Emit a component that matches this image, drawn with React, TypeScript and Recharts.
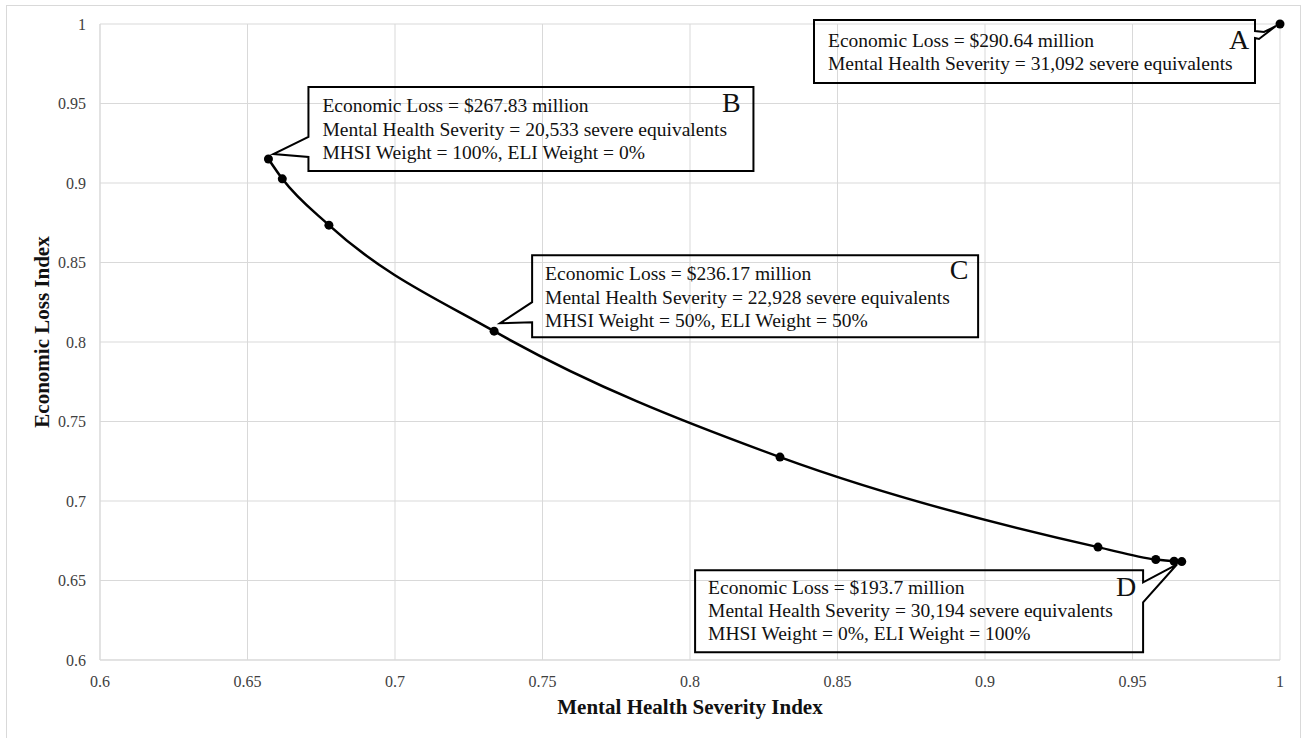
import React from 'react';
import {
  ComposedChart,
  Line,
  XAxis,
  YAxis,
  CartesianGrid,
  ReferenceDot,
  Label,
} from 'recharts';

// Mental Health Severity Index (x) and Economic Loss Index (y) along the frontier
const mhsiValues = [0.6571, 0.6618, 0.6776, 0.7336, 0.8305, 0.9383, 0.9579, 0.9641, 0.9667];
const eliValues = [0.9151, 0.9026, 0.8735, 0.8068, 0.7276, 0.671, 0.6632, 0.6621, 0.6619];

// Isolated point A
const pointAX = [1.0];
const pointAY = [1.0];

const xTicks = [0.6, 0.65, 0.7, 0.75, 0.8, 0.85, 0.9, 0.95, 1];
const yTicks = [0.6, 0.65, 0.7, 0.75, 0.8, 0.85, 0.9, 0.95, 1];

const calloutA = [
  'Economic Loss = $290.64 million',
  'Mental Health Severity = 31,092 severe equivalents',
];
const calloutB = [
  'Economic Loss = $267.83 million',
  'Mental Health Severity = 20,533 severe equivalents',
  'MHSI Weight = 100%, ELI Weight = 0%',
];
const calloutC = [
  'Economic Loss = $236.17 million',
  'Mental Health Severity = 22,928 severe equivalents',
  'MHSI Weight = 50%, ELI Weight = 50%',
];
const calloutD = [
  'Economic Loss = $193.7 million',
  'Mental Health Severity = 30,194 severe equivalents',
  'MHSI Weight = 0%, ELI Weight = 100%',
];

const frontier = mhsiValues.map((x, i) => ({ x, y: eliValues[i] }));
const pointA = pointAX.map((x, i) => ({ x, y: pointAY[i] }));

const FONT = '"Liberation Serif", "Times New Roman", serif';

const TextLines = ({ x, ys, lines }: { x: number; ys: number[]; lines: string[] }) => (
  <g>
    {lines.map((t, i) => (
      <text
        key={i}
        x={x}
        y={ys[i]}
        fontFamily={FONT}
        fontSize={19.5}
        fill="#111"
        dominantBaseline="central"
      >
        {t}
      </text>
    ))}
  </g>
);

const Letter = ({ x, y, t }: { x: number; y: number; t: string }) => (
  <text x={x} y={y} fontFamily={FONT} fontSize={28} fill="#111" textAnchor="middle" dominantBaseline="central">
    {t}
  </text>
);

const CalloutA = (p: any) => {
  const { cx, cy } = p;
  const L = cx - 466, T = cy - 4, R = cx - 25, B = cy + 59;
  const d = `M${L},${T} L${R},${T} L${R},${cy + 7} L${R + 9},${cy + 8} L${cx - 4},${cy + 2} L${R + 4},${cy + 15} L${R},${cy + 14} L${R},${B} L${L},${B} Z`;
  return (
    <g>
      <path d={d} fill="none" stroke="#000" strokeWidth={2} strokeLinejoin="miter" />
      <TextLines x={cx - 452} ys={[cy + 16, cy + 39]} lines={calloutA} />
      <Letter x={cx - 41} y={cy + 15} t="A" />
    </g>
  );
};

const CalloutB = (p: any) => {
  const { cx, cy } = p;
  const L = cx + 40, T = cy - 72, R = cx + 485, B = cy + 12;
  const d = `M${L},${T} L${R},${T} L${R},${B} L${L},${B} L${L},${cy - 2} L${cx + 5},${cy - 5} L${L},${cy - 22} Z`;
  return (
    <g>
      <path d={d} fill="none" stroke="#000" strokeWidth={2} />
      <TextLines x={cx + 54} ys={[cy - 53, cy - 29, cy - 6]} lines={calloutB} />
      <Letter x={cx + 463} y={cy - 56} t="B" />
    </g>
  );
};

const CalloutC = (p: any) => {
  const { cx, cy } = p;
  const L = cx + 38, T = cy - 76, R = cx + 484, B = cy + 6;
  const d = `M${L},${T} L${R},${T} L${R},${B} L${L},${B} L${L},${cy - 9} L${cx + 6},${cy - 8} L${L},${cy - 29} Z`;
  return (
    <g>
      <path d={d} fill="none" stroke="#000" strokeWidth={2} />
      <TextLines x={cx + 51} ys={[cy - 58, cy - 34, cy - 11]} lines={calloutC} />
      <Letter x={cx + 465} y={cy - 62} t="C" />
    </g>
  );
};

const CalloutD = (p: any) => {
  const { cx, cy } = p;
  const L = cx - 479, T = cy + 9, R = cx - 31, B = cy + 91;
  const d = `M${L},${T} L${R},${T} L${R},${cy + 21} L${cx + 3},${cy + 3} L${R},${cy + 41} L${R},${B} L${L},${B} Z`;
  return (
    <g>
      <path d={d} fill="none" stroke="#000" strokeWidth={2} />
      <TextLines x={cx - 466} ys={[cy + 26, cy + 49, cy + 72]} lines={calloutD} />
      <Letter x={cx - 48} y={cy + 25} t="D" />
    </g>
  );
};

const XTitle = (props: any) => {
  const vb = props.viewBox || { x: 100, y: 660, width: 1180, height: 30 };
  return (
    <text
      x={vb.x + vb.width / 2}
      y={vb.y + 47}
      fontFamily={FONT}
      fontSize={21}
      fontWeight="bold"
      fill="#111"
      textAnchor="middle"
      dominantBaseline="central"
    >
      Mental Health Severity Index
    </text>
  );
};

const YTitle = (props: any) => {
  const vb = props.viewBox || { x: 40, y: 24, width: 60, height: 636 };
  const x = vb.x + 2;
  const y = vb.y + vb.height / 2 - 10;
  return (
    <text
      x={x}
      y={y}
      transform={`rotate(-90, ${x}, ${y})`}
      fontFamily={FONT}
      fontSize={21}
      fontWeight="bold"
      fill="#111"
      textAnchor="middle"
      dominantBaseline="central"
    >
      Economic Loss Index
    </text>
  );
};

const XTick = (p: any) => (
  <text
    x={p.x}
    y={p.y + 13}
    fontFamily={FONT}
    fontSize={16}
    fill="#404040"
    textAnchor="middle"
    dominantBaseline="central"
  >
    {String(p.payload.value)}
  </text>
);

const YTick = (p: any) => (
  <text
    x={p.x - 6}
    y={p.y}
    fontFamily={FONT}
    fontSize={16}
    fill="#404040"
    textAnchor="end"
    dominantBaseline="central"
  >
    {String(p.payload.value)}
  </text>
);

export default function App() {
  return (
    <div style={{ position: 'absolute', left: 0, top: 0, width: 1308, height: 738, background: '#fff', overflow: 'hidden' }}>
      <div
        style={{
          position: 'absolute',
          left: 6,
          top: 5,
          width: 1295,
          height: 760,
          border: '1px solid #d9d9d9',
          boxSizing: 'border-box',
        }}
      />
      <div style={{ position: 'absolute', left: 0, top: 0 }}>
        <ComposedChart
          width={1308}
          height={738}
          data={frontier}
          margin={{ top: 24, right: 28, bottom: 48, left: 40 }}
        >
          <CartesianGrid stroke="#d9d9d9" strokeWidth={1} />
          <XAxis
            type="number"
            dataKey="x"
            domain={[0.6, 1]}
            ticks={xTicks}
            tick={<XTick />}
            tickLine={false}
            axisLine={{ stroke: '#d9d9d9' }}
            height={30}
          >
            <Label content={XTitle} />
          </XAxis>
          <YAxis
            type="number"
            dataKey="y"
            domain={[0.6, 1]}
            ticks={yTicks}
            tick={<YTick />}
            tickLine={false}
            axisLine={{ stroke: '#d9d9d9' }}
            width={60}
          >
            <Label content={YTitle} />
          </YAxis>
          <Line
            type="monotone"
            dataKey="y"
            stroke="#000"
            strokeWidth={2.5}
            dot={{ r: 4.5, fill: '#000', stroke: '#000', strokeWidth: 0 }}
            activeDot={false}
            isAnimationActive={false}
          />
          <Line
            data={pointA}
            type="linear"
            dataKey="y"
            stroke="none"
            dot={{ r: 4.5, fill: '#000', stroke: '#000', strokeWidth: 0 }}
            activeDot={false}
            isAnimationActive={false}
          />
          <ReferenceDot x={pointAX[0]} y={pointAY[0]} ifOverflow="visible" shape={CalloutA} />
          <ReferenceDot x={mhsiValues[0]} y={eliValues[0]} ifOverflow="visible" shape={CalloutB} />
          <ReferenceDot x={mhsiValues[3]} y={eliValues[3]} ifOverflow="visible" shape={CalloutC} />
          <ReferenceDot x={mhsiValues[7]} y={eliValues[7]} ifOverflow="visible" shape={CalloutD} />
        </ComposedChart>
      </div>
    </div>
  );
}
